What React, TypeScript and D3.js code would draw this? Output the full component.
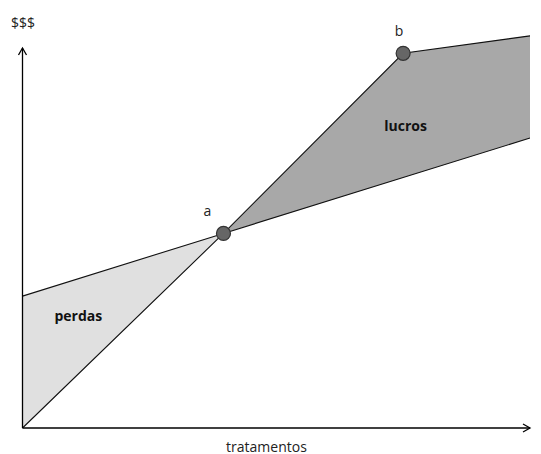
import React, { useEffect, useRef } from "react";
import * as d3 from "d3";

const WIDTH = 541;
const HEIGHT = 454;

// Abstract units: x = treatment level, y = money
const costX = [0, 39.6, 100];
const costY = [34.7, 51.2, 76.3];
const revenueX = [0, 39.6, 75, 100];
const revenueY = [0, 51.2, 98.6, 103.2];
const pointLabels = ["a", "b"];
const pointX = [39.6, 75];
const pointY = [51.2, 98.6];
const regionLabels = ["perdas", "lucros"];
const regionLabelX = [11, 75.5];
const regionLabelY = [29.5, 79.5];

const App: React.FC = () => {
  const ref = useRef<SVGSVGElement>(null);

  useEffect(() => {
    if (!ref.current) return;
    const svg = d3.select(ref.current);
    svg.selectAll("*").remove();

    const x = d3.scaleLinear().domain([0, 100]).range([22.5, 530]);
    const y = d3.scaleLinear().domain([0, 100]).range([428, 48]);

    const cost = costX.map((v, i) => ({ x: v, y: costY[i] }));
    const revenue = revenueX.map((v, i) => ({ x: v, y: revenueY[i] }));

    const line = d3
      .line<{ x: number; y: number }>()
      .x((d) => x(d.x))
      .y((d) => y(d.y));

    // losses: between cost (above) and revenue (below) up to a
    const lossPoly = [
      ...cost.filter((d) => d.x <= pointX[0]),
      ...revenue.filter((d) => d.x <= pointX[0]).reverse(),
    ];
    const profitPoly = [
      ...revenue.filter((d) => d.x >= pointX[0]),
      ...cost.filter((d) => d.x >= pointX[0]).reverse(),
    ];

    svg
      .append("path")
      .attr("d", line(lossPoly) + "Z")
      .attr("fill", "#e0e0e0");
    svg
      .append("path")
      .attr("d", line(profitPoly) + "Z")
      .attr("fill", "#a8a8a8");

    svg
      .append("path")
      .attr("d", line(cost))
      .attr("fill", "none")
      .attr("stroke", "#111")
      .attr("stroke-width", 1.1);
    svg
      .append("path")
      .attr("d", line(revenue))
      .attr("fill", "none")
      .attr("stroke", "#111")
      .attr("stroke-width", 1.1);

    // axes with open arrowheads
    const axes = svg.append("g").attr("stroke", "#000").attr("stroke-width", 1.3).attr("fill", "none");
    const x0 = x(0);
    const y0 = y(0);
    const xEnd = x(100);
    const yEnd = y(100);
    axes.append("path").attr("d", `M${x0},${y0}V${yEnd}`);
    axes.append("path").attr("d", `M${x0 - 4},${yEnd + 7}L${x0},${yEnd}L${x0 + 4},${yEnd + 7}`);
    axes.append("path").attr("d", `M${x0},${y0}H${xEnd}`);
    axes.append("path").attr("d", `M${xEnd - 7},${y0 - 4}L${xEnd},${y0}L${xEnd - 7},${y0 + 4}`);

    svg
      .selectAll("circle.pt")
      .data(pointX)
      .enter()
      .append("circle")
      .attr("class", "pt")
      .attr("cx", (d) => x(d))
      .attr("cy", (_, i) => y(pointY[i]))
      .attr("r", 7)
      .attr("fill", "#666")
      .attr("stroke", "#333")
      .attr("stroke-width", 1.2);

    const font = "'Open Sans', Lato, sans-serif";

    svg
      .selectAll("text.pl")
      .data(pointLabels)
      .enter()
      .append("text")
      .attr("class", "pl")
      .attr("x", (_, i) => x(pointX[i]) + (i === 0 ? -16 : -4))
      .attr("y", (_, i) => y(pointY[i]) - 17)
      .attr("text-anchor", "middle")
      .attr("font-family", font)
      .attr("font-size", 14)
      .attr("fill", "#222")
      .text((d) => d);

    svg
      .selectAll("text.rl")
      .data(regionLabels)
      .enter()
      .append("text")
      .attr("class", "rl")
      .attr("x", (_, i) => x(regionLabelX[i]))
      .attr("y", (_, i) => y(regionLabelY[i]))
      .attr("text-anchor", "middle")
      .attr("dominant-baseline", "central")
      .attr("font-family", font)
      .attr("font-size", 14)
      .attr("font-weight", "bold")
      .attr("fill", "#111")
      .text((d) => d);

    svg
      .append("text")
      .attr("x", 23)
      .attr("y", 28)
      .attr("text-anchor", "middle")
      .attr("font-family", font)
      .attr("font-size", 14)
      .attr("fill", "#222")
      .text("$$$");

    svg
      .append("text")
      .attr("x", 266.5)
      .attr("y", 451.5)
      .attr("text-anchor", "middle")
      .attr("font-family", font)
      .attr("font-size", 14)
      .attr("fill", "#222")
      .text("tratamentos");
  }, []);

  return (
    <div style={{ position: "fixed", left: 0, top: 0 }}>
      <svg ref={ref} width={WIDTH} height={HEIGHT} style={{ display: "block", background: "#fff" }} />
    </div>
  );
};

export default App;
